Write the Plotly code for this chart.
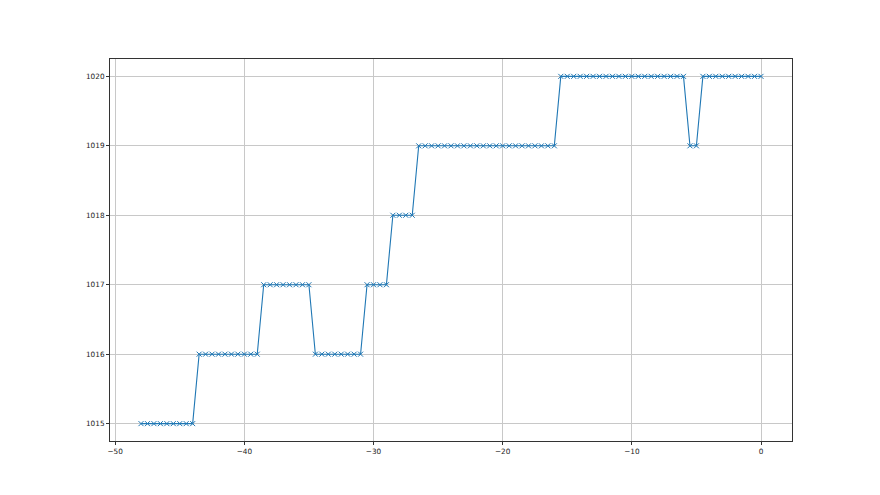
import plotly.graph_objects as go

# Time (x) values: samples every 0.5 units from -48 to 0
x_vals = [
    -48.0, -47.5, -47.0, -46.5, -46.0, -45.5, -45.0, -44.5, -44.0,
    -43.5, -43.0, -42.5, -42.0, -41.5, -41.0, -40.5, -40.0, -39.5, -39.0,
    -38.5, -38.0, -37.5, -37.0, -36.5, -36.0, -35.5, -35.0,
    -34.5, -34.0, -33.5, -33.0, -32.5, -32.0, -31.5, -31.0,
    -30.5, -30.0, -29.5, -29.0,
    -28.5, -28.0, -27.5, -27.0,
    -26.5, -26.0, -25.5, -25.0, -24.5, -24.0, -23.5, -23.0, -22.5, -22.0, -21.5,
    -21.0, -20.5, -20.0, -19.5, -19.0, -18.5, -18.0, -17.5, -17.0, -16.5, -16.0,
    -15.5, -15.0, -14.5, -14.0, -13.5, -13.0, -12.5, -12.0, -11.5, -11.0,
    -10.5, -10.0, -9.5, -9.0, -8.5, -8.0, -7.5, -7.0, -6.5, -6.0,
    -5.5, -5.0,
    -4.5, -4.0, -3.5, -3.0, -2.5, -2.0, -1.5, -1.0, -0.5, 0.0,
]

# Pressure values
y_vals = (
    [1015] * 9
    + [1016] * 10
    + [1017] * 8
    + [1016] * 8
    + [1017] * 4
    + [1018] * 4
    + [1019] * 22
    + [1020] * 20
    + [1019] * 2
    + [1020] * 10
)

x_ticks = [-50, -40, -30, -20, -10, 0]
y_ticks = [1015, 1016, 1017, 1018, 1019, 1020]

fig = go.Figure()
fig.add_trace(go.Scatter(
    x=x_vals, y=y_vals, mode="lines+markers",
    line=dict(color="#1f77b4", width=1.1),
    marker=dict(symbol="x-thin", size=5, color="#1f77b4",
                line=dict(color="#1f77b4", width=1)),
    showlegend=False,
))

axis_common = dict(
    showline=True, mirror=True, linecolor="#333333", linewidth=1,
    showgrid=True, gridcolor="#c8c8c8", gridwidth=1,
    ticks="outside", ticklen=3, tickcolor="#333333", tickwidth=1,
    zeroline=False,
    tickfont=dict(family="DejaVu Sans", size=7.3, color="#222222"),
)

fig.update_xaxes(range=[-50.4, 2.4], tickvals=x_ticks,
                 ticktext=[str(v).replace("-", "−") for v in x_ticks], **axis_common)
fig.update_yaxes(range=[1014.75, 1020.25], tickvals=y_ticks,
                 ticktext=[str(v) for v in y_ticks], **axis_common)

# The page body adds an 8px offset, so margins are reduced accordingly
fig.update_layout(
    width=880, height=495,
    margin=dict(l=102, r=96, t=51, b=62),
    paper_bgcolor="white", plot_bgcolor="white",
)

fig.write_html("out.html")
